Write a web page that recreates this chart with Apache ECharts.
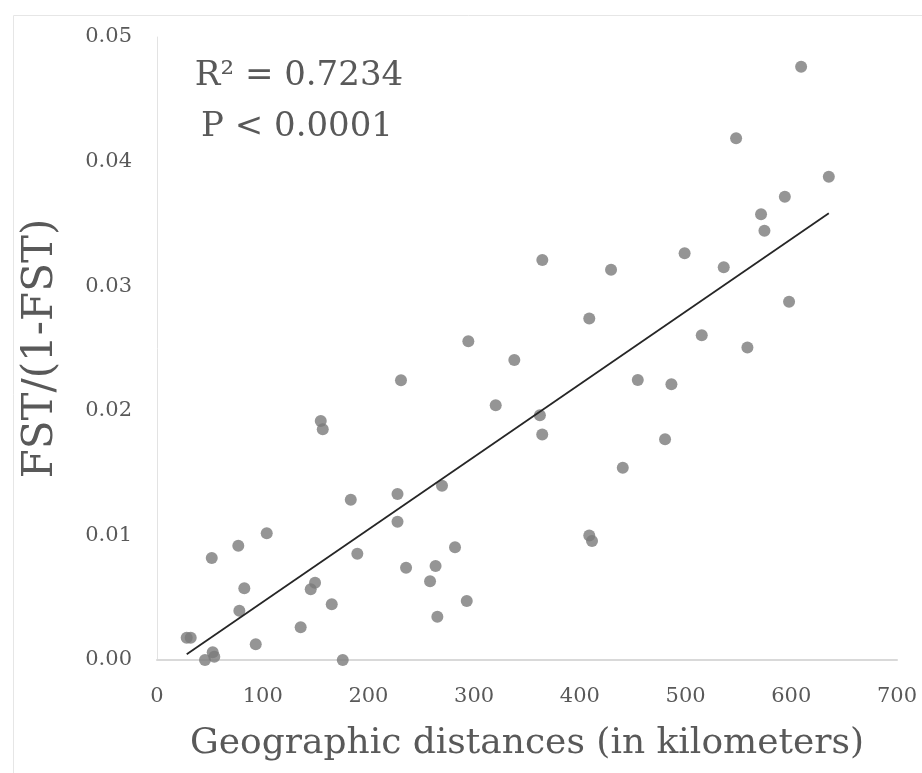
<!DOCTYPE html>
<html>
<head>
<meta charset="utf-8">
<script src="https://cdn.jsdelivr.net/npm/echarts@6/dist/echarts.min.js"></script>
<style>html,body{margin:0;padding:0;background:#fff}#c{width:922px;height:773px}</style>
</head>
<body>
<div id="c"></div>
<script>
// Geographic distance (km) of each pair
const distanceKm = [28.1, 31.9, 45.4, 52.7, 54.2, 51.8, 76.9, 103.8, 82.6, 77.9, 93.4,
  154.9, 156.8, 183.3, 189.5, 145.4, 149.5, 135.9, 165.3, 175.7,
  230.8, 227.5, 227.5, 294.5, 338.0, 320.4, 362.2, 364.4, 454.8, 440.6,
  269.6, 281.9, 235.6, 263.5, 258.3, 293.0, 265.2, 408.9, 411.5,
  480.6, 486.6, 408.9, 429.5, 364.5, 499.1, 609.3, 547.8, 635.5,
  593.9, 571.4, 574.6, 536.1, 597.9, 515.3, 558.5];
// FST/(1-FST) of each pair
const fstRatio = [0.00179, 0.00179, 0.0, 0.00062, 0.00026, 0.00819, 0.00917, 0.01017, 0.00575, 0.00396, 0.00126,
  0.01918, 0.01852, 0.01287, 0.00853, 0.00567, 0.0062, 0.00262, 0.00447, 0.0,
  0.02245, 0.01332, 0.0111, 0.02558, 0.02408, 0.02044, 0.01965, 0.0181, 0.02247, 0.01543,
  0.01399, 0.00905, 0.00741, 0.00754, 0.00632, 0.00474, 0.00348, 0.00999, 0.00955,
  0.01771, 0.02213, 0.02741, 0.03132, 0.0321, 0.03264, 0.04762, 0.04187, 0.03879,
  0.03718, 0.03577, 0.03445, 0.03152, 0.02876, 0.02606, 0.02508];
// Linear trend line endpoints
const trendX = [28.1, 635.5];
const trendY = [0.00046, 0.03585];
// Axis ticks
const xTicks = [0, 100, 200, 300, 400, 500, 600, 700];
const yTicks = ['0.00', '0.01', '0.02', '0.03', '0.04', '0.05'];
const annotR2 = 'R² = 0.7234';
const annotP = 'P < 0.0001';

const serif = '"DejaVu Serif", "Liberation Serif", serif';
const gray = '#595959';
const chart = echarts.init(document.getElementById('c'));
chart.setOption({
  animation: false,
  backgroundColor: '#fff',
  grid: { left: 157, right: 25, top: 37, bottom: 113, containLabel: false },
  xAxis: {
    type: 'value', min: xTicks[0], max: xTicks[xTicks.length - 1], interval: 100,
    axisLine: { show: true, lineStyle: { color: '#d9d9d9', width: 2 } },
    axisTick: { show: false },
    splitLine: { show: false },
    axisLabel: { color: gray, fontFamily: serif, fontSize: 21, margin: 26 },
    name: 'Geographic distances (in kilometers)',
    nameLocation: 'middle', nameGap: 66,
    nameTextStyle: { color: gray, fontFamily: serif, fontSize: 36 }
  },
  yAxis: {
    type: 'value', min: 0, max: 0.05, interval: 0.01,
    axisLine: { show: true, lineStyle: { color: '#e3e3e3', width: 1 } },
    axisTick: { show: false },
    splitLine: { show: false },
    axisLabel: { color: gray, fontFamily: serif, fontSize: 21, margin: 25,
      formatter: (v) => yTicks[Math.round(v * 100)] },
    name: 'FST/(1-FST)',
    nameLocation: 'middle', nameGap: 95, nameRotate: 90,
    nameTextStyle: { color: gray, fontFamily: serif, fontSize: 42 }
  },
  graphic: [
    { type: 'rect', left: 11, top: 13, silent: true, z: -10,
      shape: { width: 930, height: 780 },
      style: { fill: 'none', stroke: '#e6e6e6', lineWidth: 1 } },
    { type: 'text', x: 299, y: 76, silent: true,
      style: { text: annotR2, fill: gray, font: '34px ' + serif, textAlign: 'center', textVerticalAlign: 'middle' } },
    { type: 'text', x: 297, y: 127, silent: true,
      style: { text: annotP, fill: gray, font: '34px ' + serif, textAlign: 'center', textVerticalAlign: 'middle' } }
  ],
  series: [
    {
      type: 'scatter',
      data: distanceKm.map((d, i) => [d, fstRatio[i]]),
      symbol: 'circle', symbolSize: 12,
      itemStyle: { color: '#7a7a7a' },
      z: 3
    },
    {
      type: 'line',
      data: trendX.map((d, i) => [d, trendY[i]]),
      symbol: 'none',
      lineStyle: { color: '#262626', width: 1.8 },
      z: 4
    }
  ]
});
</script>
</body>
</html>
